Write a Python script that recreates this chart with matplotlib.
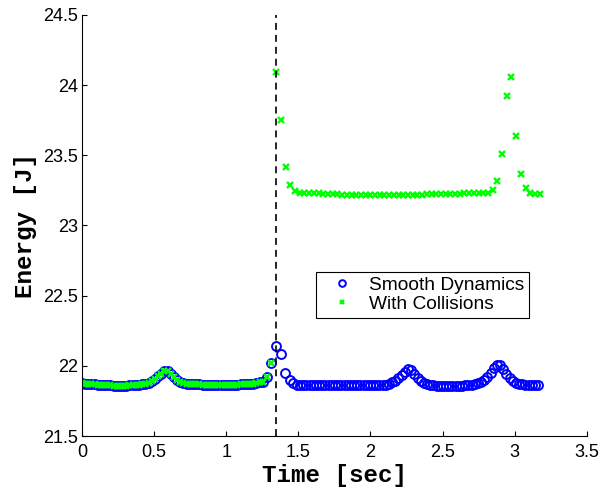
import matplotlib
matplotlib.use('Agg')
import matplotlib.pyplot as plt
import numpy as np

plt.rcParams['font.family'] = ['Liberation Sans', 'DejaVu Sans']
plt.rcParams['lines.scale_dashes'] = False

# smooth dynamics (blue circles), sampled in three pieces
t_a = np.arange(58) * 0.022
e_a = [21.875, 21.874, 21.872, 21.870, 21.868, 21.866, 21.864, 21.862, 21.861, 21.860,
       21.859, 21.858, 21.858, 21.858, 21.859, 21.860, 21.861, 21.863, 21.866, 21.870,
       21.874, 21.880, 21.890, 21.905, 21.925, 21.945, 21.965, 21.965, 21.945, 21.920,
       21.900, 21.887, 21.878, 21.873, 21.871,
       21.870, 21.869, 21.868, 21.867, 21.866, 21.866, 21.865, 21.865, 21.865, 21.865,
       21.865, 21.865, 21.866, 21.866, 21.867, 21.868, 21.869, 21.870, 21.872, 21.874,
       21.877, 21.882, 21.888]
t_b = [1.28, 1.3125, 1.345, 1.38, 1.41, 1.44, 1.465]
e_b = [21.92, 22.02, 22.143, 22.084, 21.95, 21.90, 21.875]
t_c = 1.49 + np.arange(77) * 0.022
e_c = [21.866, 21.864, 21.863, 21.862, 21.862, 21.861, 21.861, 21.861, 21.861, 21.861,
       21.861, 21.861, 21.861, 21.861, 21.861, 21.861, 21.861, 21.861, 21.861, 21.862,
       21.862, 21.862, 21.862, 21.863, 21.863, 21.863, 21.864, 21.865,
       21.866, 21.872, 21.882, 21.895, 21.912, 21.935, 21.958, 21.975, 21.970, 21.945,
       21.915, 21.893, 21.877, 21.868, 21.863,
       21.860, 21.858, 21.857, 21.856, 21.856, 21.856, 21.856, 21.857, 21.858, 21.859,
       21.861, 21.863, 21.866, 21.870,
       21.876, 21.885, 21.898, 21.918, 21.948, 21.985, 22.008, 22.005, 21.975, 21.940,
       21.910, 21.890, 21.878, 21.871, 21.868, 21.867, 21.866, 21.866, 21.866, 21.866]

t_smooth = np.concatenate([t_a, t_b, t_c])
e_smooth = np.concatenate([e_a, e_b, e_c])

# with collisions (green x): same as smooth until the impact, then its own samples
n_pre = len(t_a) + 2
t_post = 1.347 + np.arange(57) * 0.0326
e_post = [24.095, 23.75, 23.42, 23.29, 23.245,
          23.235, 23.234, 23.233, 23.232, 23.230, 23.228, 23.226, 23.224, 23.222, 23.220,
          23.219, 23.218, 23.217, 23.216, 23.215, 23.215, 23.214, 23.214, 23.214, 23.214,
          23.215, 23.215, 23.216, 23.217, 23.218, 23.219, 23.220, 23.221, 23.222, 23.223,
          23.224, 23.225, 23.226, 23.227, 23.228, 23.229, 23.229, 23.230, 23.230, 23.231,
          23.233,
          23.255, 23.32, 23.51, 23.92, 24.055, 23.635, 23.365, 23.268, 23.233, 23.226, 23.226]
t_coll = np.concatenate([t_smooth[:n_pre], t_post])
e_coll = np.concatenate([e_smooth[:n_pre], e_post])

t_impact = 1.345

fig = plt.figure(figsize=(6.02, 4.93), dpi=100)
ax = fig.add_axes([0.136, 0.1156, 0.839, 0.854])

ax.plot(t_smooth, e_smooth, 'o', color=(0, 0, 1), markerfacecolor='none',
        markersize=6.4, markeredgewidth=1.4, label='Smooth Dynamics')
ax.plot(t_coll, e_coll, 'x', color=(0, 1, 0), markersize=3.8,
        markeredgewidth=1.7, label='With Collisions')
ax.axvline(t_impact, color='k', linestyle='--', linewidth=1.2, dashes=(5, 3.6))

ax.set_xlim(0, 3.5)
ax.set_ylim(21.5, 24.5)
ax.set_xticks([0, 0.5, 1, 1.5, 2, 2.5, 3, 3.5])
ax.set_xticklabels(['0', '0.5', '1', '1.5', '2', '2.5', '3', '3.5'])
ax.set_yticks([21.5, 22, 22.5, 23, 23.5, 24, 24.5])
ax.set_yticklabels(['21.5', '22', '22.5', '23', '23.5', '24', '24.5'])
ax.spines['top'].set_visible(False)
ax.spines['right'].set_visible(False)
ax.spines['left'].set_linewidth(0.8)
ax.spines['bottom'].set_linewidth(0.8)
ax.tick_params(direction='in', length=3.5, width=0.8, labelsize=13)
ax.tick_params(axis='x', pad=6)
ax.tick_params(axis='y', pad=3)

ax.set_xlabel('Time [sec]', family='Liberation Mono', fontweight='bold', fontsize=17.5, labelpad=2)
ax.set_ylabel('Energy [J]', family='Liberation Mono', fontweight='bold', fontsize=17.5, labelpad=4)

leg = ax.legend(loc='lower left', bbox_to_anchor=(0.4634, 0.2803), fontsize=13.8,
                frameon=True, fancybox=False, edgecolor='black', framealpha=1,
                borderaxespad=0, borderpad=0.25, labelspacing=0.1,
                handlelength=2.2, handletextpad=0.32, markerscale=0.75)
leg.get_frame().set_linewidth(0.8)

fig.savefig('out.png', dpi=100)
